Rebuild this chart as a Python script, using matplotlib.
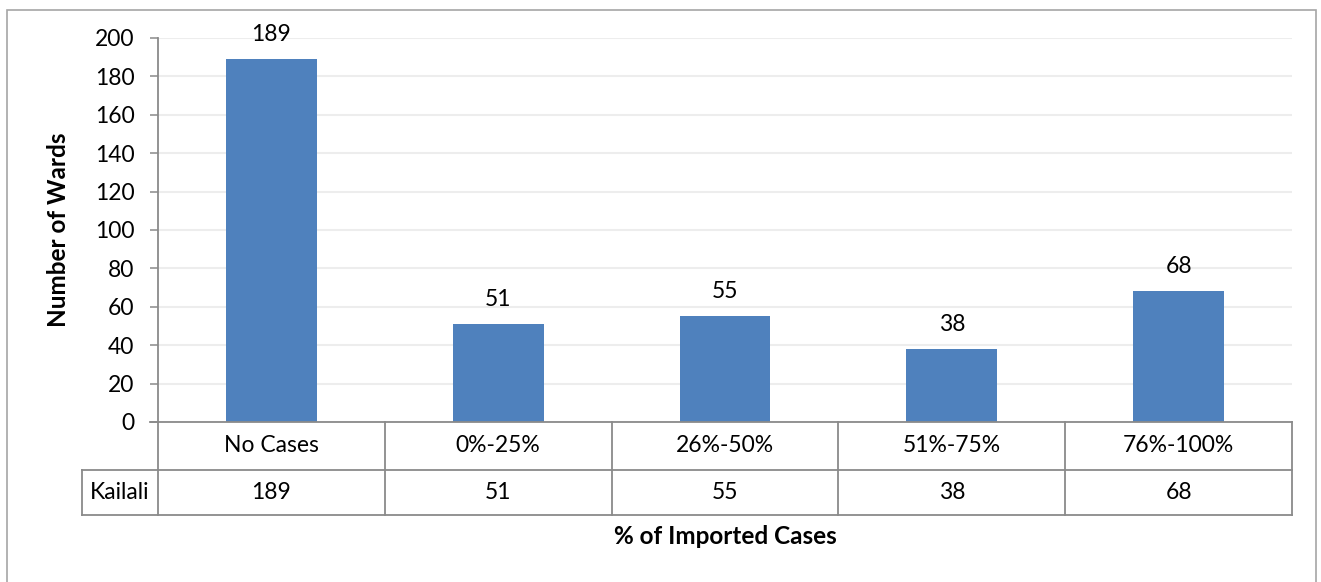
import matplotlib
matplotlib.use("Agg")
import matplotlib.pyplot as plt
import matplotlib.transforms as mtransforms
from matplotlib.patches import Rectangle

# Data
categories = ["No Cases", "0%-25%", "26%-50%", "51%-75%", "76%-100%"]
wards = [189, 51, 55, 38, 68]
series_name = "Kailali"
y_ticks = [0, 20, 40, 60, 80, 100, 120, 140, 160, 180, 200]
y_label = "Number of Wards"
x_label = "% of Imported Cases"

W, H = 1321, 582
DPI = 100
plt.rcParams["font.family"] = ["Lato", "DejaVu Sans"]
FS = 16.5
FS_TITLE = 17.5
BAR_COLOR = "#4F81BD"
LINE_COLOR = "#8A8A8A"
GRID_COLOR = "#EDEDED"

fig = plt.figure(figsize=(W / DPI, H / DPI), dpi=DPI)
fig.patch.set_facecolor("white")


def fx(px):
    return px / W


def fy(py):
    return 1 - py / H


# outer chart frame
fig.add_artist(Rectangle((fx(7), fy(600)), fx(1316) - fx(7), fy(10) - fy(600),
                         transform=fig.transFigure, fill=False,
                         edgecolor="#A6A6A6", linewidth=1.2))

left, right, top, bottom = 158, 1292, 38, 422
ax = fig.add_axes([fx(left), fy(bottom), fx(right) - fx(left), fy(top) - fy(bottom)])

x = list(range(len(categories)))
ax.bar(x, wards, width=0.4, color=BAR_COLOR, zorder=3)
for xi, v in zip(x, wards):
    ax.annotate(str(v), (xi, v), xytext=(0, 13), textcoords="offset points",
                ha="center", va="baseline", fontsize=FS, color="black")

ax.set_xlim(-0.5, len(categories) - 0.5)
ax.set_ylim(0, 200)
ax.set_yticks(y_ticks)
ax.set_xticks([])
ax.grid(axis="y", color=GRID_COLOR, linewidth=1.5, zorder=0)
ax.tick_params(axis="y", length=6, width=1.1, color=LINE_COLOR, pad=11,
               labelsize=FS)
for s in ["top", "right"]:
    ax.spines[s].set_visible(False)
for s in ["left", "bottom"]:
    ax.spines[s].set_color(LINE_COLOR)
    ax.spines[s].set_linewidth(1.3)
ax.spines["bottom"].set_zorder(4)
ax.set_axisbelow(True)

# extend the bottom line to the left, matching the zero tick
fig.add_artist(plt.Line2D([fx(150), fx(left)], [fy(bottom), fy(bottom)],
                          transform=fig.transFigure, color=LINE_COLOR, lw=1.3))

# data table below the axis
trans = mtransforms.blended_transform_factory(ax.transData, fig.transFigure)
row_mid, row_bot = 470, 515
n = len(categories)
line_kw = dict(color=LINE_COLOR, lw=1.3, clip_on=False)
for i in range(n + 1):
    xb = -0.5 + i
    fig.add_artist(plt.Line2D([xb, xb], [fy(bottom), fy(row_bot)], transform=trans, **line_kw))
fig.add_artist(plt.Line2D([fx(82), fx(right)], [fy(row_mid), fy(row_mid)],
                          transform=fig.transFigure, **line_kw))
fig.add_artist(plt.Line2D([fx(82), fx(right)], [fy(row_bot), fy(row_bot)],
                          transform=fig.transFigure, **line_kw))
fig.add_artist(plt.Line2D([fx(82), fx(82)], [fy(row_mid), fy(row_bot)],
                          transform=fig.transFigure, **line_kw))

for xi, c, v in zip(x, categories, wards):
    fig.text(0, fy((bottom + row_mid) / 2), c, transform=trans, ha="center",
             va="center", fontsize=FS).set_x(xi)
    fig.text(0, fy((row_mid + row_bot) / 2), str(v), transform=trans, ha="center",
             va="center", fontsize=FS).set_x(xi)
fig.text(fx(120), fy((row_mid + row_bot) / 2), series_name, ha="center",
         va="center", fontsize=FS)

# axis titles
fig.text(fx(58), fy((top + bottom) / 2), y_label, rotation=90, ha="center",
         va="center", fontsize=FS_TITLE, fontweight="bold")
fig.text(fx((left + right) / 2), fy(537), x_label, ha="center", va="center",
         fontsize=FS_TITLE, fontweight="bold")

fig.savefig("out.png", dpi=DPI)
